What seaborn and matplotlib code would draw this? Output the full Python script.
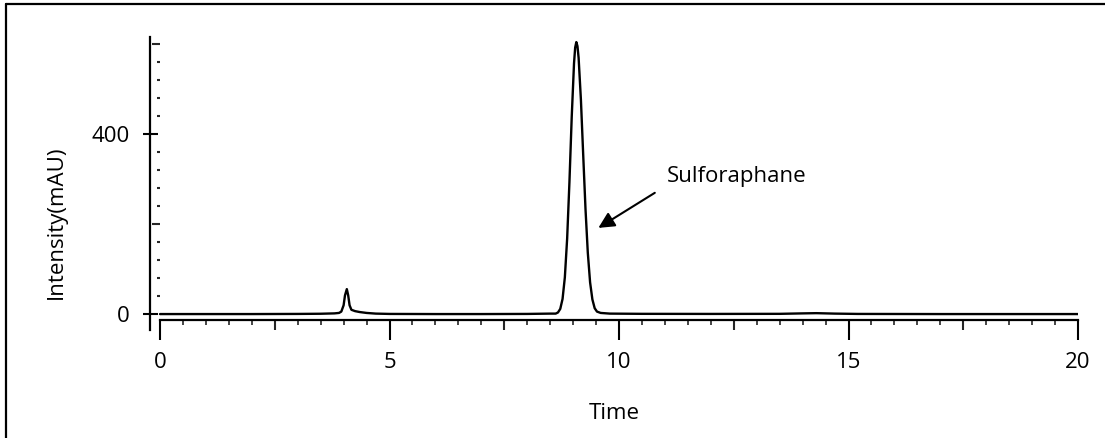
"""HPLC chromatogram: sulforaphane peak."""

import numpy as np
import pandas as pd
import matplotlib
matplotlib.use("Agg")
import matplotlib.pyplot as plt
import seaborn as sns
from matplotlib.lines import Line2D
from matplotlib.ticker import FixedLocator, NullLocator

# retention time (min) and detector signal (mAU)
time_min = [
    0.0, 1.0, 2.0, 3.0, 3.5, 3.8, 3.9, 3.95, 4.0, 4.03, 4.07, 4.10, 4.13,
    4.17, 4.25, 4.35, 4.5, 4.7, 5.0, 6.0, 7.0, 8.0, 8.5, 8.62, 8.67, 8.72,
    8.77, 8.82, 8.87, 8.92, 8.97, 9.02, 9.045, 9.07, 9.095, 9.12, 9.17,
    9.22, 9.27, 9.32, 9.37, 9.42, 9.47, 9.52, 9.6, 9.8, 10.5, 12.0, 13.5,
    14.0, 14.3, 14.7, 15.2, 17.0, 20.0,
]
intensity = [
    0.5, 0.5, 0.5, 0.8, 1.2, 2.0, 3.0, 6.0, 20.0, 42.0, 56.0, 42.0, 20.0,
    10.0, 7.0, 5.0, 3.0, 1.5, 0.8, 0.5, 0.5, 0.8, 1.5, 1.5, 4.0, 12.0,
    34.0, 82.0, 168.0, 294.0, 439.0, 558.0, 593.0, 605.0, 596.0, 570.0, 477.0,
    354.0, 234.0, 137.0, 71.0, 33.0, 13.5, 6.0, 3.0, 1.5, 1.0, 0.8, 1.0,
    2.0, 2.5, 1.5, 0.8, 0.5, 0.5,
]

y_major = [0, 400]
y_major_unlabeled = [200, 600]
y_minor = [v for v in range(40, 600, 40) if v % 200 != 0]
x_major = [0, 5, 10, 15, 20]
x_mid = [2.5, 7.5, 12.5, 17.5]
x_minor = [v / 2 for v in range(0, 41) if v % 5 != 0]

peak_label = "Sulforaphane"
peak_tip = (9.55, 192)
label_pos = (11.04, 306)

df = pd.DataFrame({"Time": time_min, "Intensity": intensity})

sns.set_theme(style="ticks")
plt.rcParams["font.family"] = ["Open Sans", "DejaVu Sans"]
plt.rcParams["font.size"] = 16
plt.rcParams["text.color"] = "black"
plt.rcParams["axes.labelcolor"] = "black"

fig = plt.figure(figsize=(11.05, 4.38), dpi=100)
ax = fig.add_axes([0.13575, 0.26941, 0.83982, 0.6468])

sns.lineplot(data=df, x="Time", y="Intensity", color="black", linewidth=1.7, ax=ax)

ax.set_xlim(-0.218, 20.0)
ax.set_ylim(-12.7, 617)

for side in ["top", "right"]:
    ax.spines[side].set_visible(False)
ax.spines["left"].set_linewidth(1.6)
ax.spines["bottom"].set_linewidth(1.6)
ax.spines["left"].set_color("black")
ax.spines["bottom"].set_color("black")
ax.spines["left"].set_bounds(-35, 617)
ax.spines["left"].set_clip_on(False)
ax.spines["bottom"].set_bounds(0, 20)

# y axis: labelled crossing ticks
ax.yaxis.set_major_locator(FixedLocator(y_major))
ax.yaxis.set_minor_locator(NullLocator())
ax.tick_params(axis="y", which="major", direction="inout", length=10.8,
               width=1.5, pad=9, labelsize=16, colors="black")

# extra y ticks drawn a bit off the spine
sec_y = ax.secondary_yaxis(10 / 928)
sec_y.spines["left"].set_visible(False)
sec_y.yaxis.set_major_locator(FixedLocator(y_major_unlabeled))
sec_y.yaxis.set_minor_locator(FixedLocator(y_minor))
sec_y.tick_params(which="major", direction="out", length=5.8, width=1.5, labelleft=False)
sec_y.tick_params(which="minor", direction="out", length=2.2, width=1.5)
sec_y.set_yticklabels([])

# x axis
ax.xaxis.set_major_locator(FixedLocator(x_major))
ax.xaxis.set_minor_locator(FixedLocator(x_minor))
ax.tick_params(axis="x", which="major", direction="out", length=14.4, width=1.5,
               pad=9, labelsize=16, colors="black")
ax.tick_params(axis="x", which="minor", direction="out", length=3.6, width=1.2)

sec_x = ax.secondary_xaxis("bottom")
sec_x.spines["bottom"].set_visible(False)
sec_x.xaxis.set_major_locator(FixedLocator(x_mid))
sec_x.xaxis.set_minor_locator(NullLocator())
sec_x.tick_params(which="major", direction="out", length=7.2, width=1.5, labelbottom=False)

ax.set_xlabel("Time", fontsize=16, labelpad=21)
ax.set_ylabel("Intensity(mAU)", fontsize=16)
ax.yaxis.set_label_coords(-0.0894, 0.346)

ax.annotate("", xy=peak_tip, xytext=(10.78, 270),
            arrowprops=dict(arrowstyle="-|>,head_length=0.6,head_width=0.3",
                            color="black", lw=1.5, mutation_scale=16,
                            shrinkA=0, shrinkB=0))
ax.text(label_pos[0], label_pos[1], peak_label, fontsize=16, ha="left", va="center")

# outer frame of the original figure (left and top edges visible)
fig.add_artist(Line2D([6 / 1105, 6 / 1105], [0, 434 / 438], transform=fig.transFigure,
                      color="black", lw=1.6))
fig.add_artist(Line2D([6 / 1105, 1.0], [434 / 438, 434 / 438], transform=fig.transFigure,
                      color="black", lw=1.6))

fig.savefig("out.png", dpi=100, facecolor="white")
plt.close(fig)
